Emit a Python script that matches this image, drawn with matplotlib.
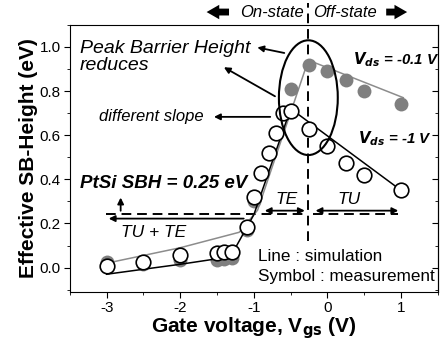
import matplotlib.pyplot as plt
from matplotlib.patches import Ellipse
from matplotlib.ticker import MultipleLocator

plt.rcParams['font.family'] = ['Liberation Sans', 'DejaVu Sans']
plt.rcParams['axes.unicode_minus'] = False

# measured points, Vds = -0.1 V (filled gray)
meas_01_x = [-3, -2.5, -2, -1.5, -1.4, -1.3, -1.1, -1.0, -0.5, -0.25, 0, 0.25, 0.5, 1.0]
meas_01_y = [0.025, 0.015, 0.035, 0.035, 0.04, 0.045, 0.17, 0.30, 0.81, 0.92, 0.89, 0.85, 0.80, 0.74]

# measured points, Vds = -1 V (open circles)
meas_1_x = [-3, -2.5, -2, -1.5, -1.4, -1.3, -1.1, -1.0, -0.9, -0.8, -0.7, -0.6, -0.5,
            -0.25, 0, 0.25, 0.5, 1.0]
meas_1_y = [0.005, 0.025, 0.055, 0.065, 0.07, 0.07, 0.185, 0.32, 0.43, 0.52, 0.61, 0.70, 0.71,
            0.63, 0.55, 0.475, 0.42, 0.35]

# simulation lines
sim_01_x = [-3, -2, -1.2, -0.95, -0.26, 1.03]
sim_01_y = [0.02, 0.09, 0.16, 0.26, 0.94, 0.77]
sim_1_x = [-3, -2, -1.5, -1.25, -1.0, -0.5, 1.0]
sim_1_y = [-0.03, 0.015, 0.04, 0.09, 0.24, 0.72, 0.35]

sbh = 0.25
v_split = -0.26

fig = plt.figure(figsize=(4.45, 3.45), dpi=100)
ax = fig.add_axes([0.157, 0.154, 0.827, 0.774])

ax.plot(sim_01_x, sim_01_y, color='#8c8c8c', lw=1.1, zorder=2)
ax.plot(meas_01_x, meas_01_y, 'o', color='#7f7f7f', ms=10, mec='none', zorder=3)
ax.plot(sim_1_x, sim_1_y, color='black', lw=1.1, zorder=4)
ax.plot(meas_1_x, meas_1_y, 'o', mfc='white', mec='black', mew=1.2, ms=10.5, zorder=5)

# SBH dashed line and vertical divider
ax.plot([-3.01, v_split], [sbh - 0.005, sbh - 0.005], 'k--', lw=1.4, dashes=(5, 3), zorder=1)
ax.plot([-0.19, 0.96], [sbh - 0.005, sbh - 0.005], 'k--', lw=1.4, dashes=(5, 3), zorder=1)
ax.plot([v_split, v_split], [0.12, 1.2], 'k--', lw=1.4, dashes=(5, 3), zorder=1, clip_on=False)

ap = dict(arrowstyle='-|>', color='black', lw=1.3, mutation_scale=9)
ap2 = dict(arrowstyle='<|-|>', color='black', lw=1.3, mutation_scale=9)
ax.annotate('', xy=(-3.01, 0.222), xytext=(-1.1, 0.222), arrowprops=ap)
ax.annotate('', xy=(-2.81, 0.33), xytext=(-2.81, 0.245), arrowprops=ap)
ax.annotate('', xy=(-0.89, 0.258), xytext=(v_split - 0.01, 0.258), arrowprops=ap2)
ax.annotate('', xy=(-0.2, 0.258), xytext=(1.0, 0.258), arrowprops=ap2)

ax.text(-3.36, 0.38, 'PtSi SBH = 0.25 eV', fontsize=13.5, fontweight='bold', style='italic',
        ha='left', va='center')
ax.text(-0.55, 0.31, 'TE', fontsize=12.5, style='italic', ha='center', va='center')
ax.text(0.29, 0.31, 'TU', fontsize=12.5, style='italic', ha='center', va='center')
ax.text(-2.36, 0.16, 'TU + TE', fontsize=12.5, style='italic', ha='center', va='center')
ax.text(-0.945, 0.05, 'Line : simulation', fontsize=12.3, ha='left', va='center')
ax.text(-0.945, -0.04, 'Symbol : measurement', fontsize=12.3, ha='left', va='center')

# ellipse around the peak
ax.add_patch(Ellipse((-0.26, 0.77), 0.8, 0.52, fill=False, ec='black', lw=1.5, zorder=6))

ax.text(-3.36, 0.955, 'Peak Barrier Height\nreduces', fontsize=14, style='italic',
        ha='left', va='center', linespacing=1.0)
ax.annotate('', xy=(-0.99, 1.0), xytext=(-0.55, 0.97), arrowprops=ap)
ax.annotate('', xy=(-1.44, 0.914), xytext=(-0.68, 0.77), arrowprops=ap)
ax.text(-3.11, 0.683, 'different slope', fontsize=12, style='italic', ha='left', va='center')
ax.annotate('', xy=(-1.58, 0.683), xytext=(-0.74, 0.683), arrowprops=ap)

ax.text(0.34, 0.94, r'$\mathbfit{V}_{\mathbfit{ds}}$' + ' = -0.1 V', fontsize=10.8,
        fontweight='bold', style='italic', ha='left', va='center')
ax.text(0.41, 0.585, r'$\mathbfit{V}_{\mathbfit{ds}}$' + ' = -1 V', fontsize=10.8,
        fontweight='bold', style='italic', ha='left', va='center')

# On-state / Off-state header
ax.text(v_split - 0.06, 1.158, 'On-state', fontsize=12, style='italic', ha='right',
        va='center', clip_on=False)
ax.text(v_split + 0.06, 1.158, 'Off-state', fontsize=12, style='italic', ha='left',
        va='center', clip_on=False)
big = dict(arrowstyle='simple,head_width=0.8,head_length=0.7,tail_width=0.38',
           color='black', lw=0, mutation_scale=13)
ax.annotate('', xy=(-1.68, 1.158), xytext=(-1.3, 1.158), arrowprops=big,
            annotation_clip=False)
ax.annotate('', xy=(1.12, 1.158), xytext=(0.76, 1.158), arrowprops=big,
            annotation_clip=False)

ax.set_xlim(-3.5, 1.5)
ax.set_ylim(-0.11, 1.1)
ax.set_xticks([-3, -2, -1, 0, 1])
ax.set_yticks([0.0, 0.2, 0.4, 0.6, 0.8, 1.0])
ax.xaxis.set_minor_locator(MultipleLocator(0.5))
ax.yaxis.set_minor_locator(MultipleLocator(0.1))
ax.tick_params(which='both', direction='out', top=False, right=False, labelsize=11, pad=2.5)
ax.tick_params(which='major', length=4)
ax.tick_params(which='minor', length=2.5)
rax = ax.secondary_yaxis('right')
rax.set_yticks([0.0, 0.2, 0.4, 0.6, 0.8, 1.0])
rax.yaxis.set_minor_locator(MultipleLocator(0.1))
rax.tick_params(which='both', direction='in', labelright=False)
rax.tick_params(which='major', length=4)
rax.tick_params(which='minor', length=2.5)

ax.set_xlabel(r'Gate voltage, V$_{\mathbf{gs}}$ (V)', fontsize=15, fontweight='bold', labelpad=0)
ax.set_ylabel('Effective SB-Height (eV)', fontsize=15, fontweight='bold', labelpad=1)

fig.savefig('out.png', dpi=100)
